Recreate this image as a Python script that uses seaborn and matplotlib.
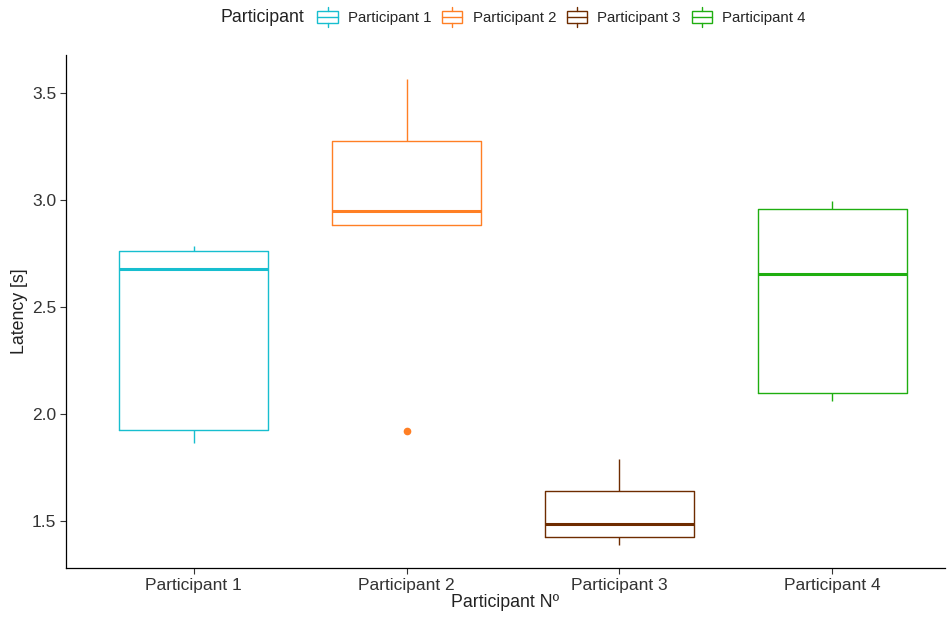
import numpy as np
import pandas as pd
import matplotlib
matplotlib.use("Agg")
import matplotlib.pyplot as plt
import seaborn as sns
from matplotlib.legend_handler import HandlerBase
from matplotlib.patches import Rectangle
from matplotlib.lines import Line2D

# latency per participant (5 trials each)
participants = ["Participant 1", "Participant 2", "Participant 3", "Participant 4"]
p1 = [1.864, 1.925, 2.677, 2.764, 2.785]
p2 = [1.921, 2.883, 2.950, 3.276, 3.565]
p3 = [1.388, 1.427, 1.486, 1.642, 1.790]
p4 = [2.062, 2.098, 2.656, 2.957, 2.995]
colors = ["#17BECF", "#FF7F24", "#6E2C00", "#1FAE10"]

df = pd.DataFrame({
    "participant": np.repeat(participants, 5),
    "latency": p1 + p2 + p3 + p4,
})
palette = dict(zip(participants, colors))

sns.set_style("white")
plt.rcParams["font.family"] = ["Liberation Sans", "DejaVu Sans"]

fig = plt.figure(figsize=(9.49, 6.21), dpi=100)
ax = fig.add_axes([0.0695, 0.0853, 0.9263, 0.8261])

sns.boxplot(data=df, x="participant", y="latency", hue="participant",
            palette=palette, fill=False, width=0.7, linewidth=1,
            showcaps=False, legend=False, whis=1.5,
            medianprops={"linewidth": 2.2},
            flierprops={"marker": "o", "markersize": 4.5}, ax=ax)

# filled outlier dots like ggplot
for ln in ax.lines:
    if ln.get_marker() == "o":
        ln.set_markerfacecolor(ln.get_markeredgecolor())

ax.set_xlim(-0.6, 3.53)
ax.set_ylim(1.28, 3.678)
ax.set_yticks([1.5, 2.0, 2.5, 3.0, 3.5])
ax.set_yticklabels(["1.5", "2.0", "2.5", "3.0", "3.5"])
ax.set_xlabel("Participant Nº", fontsize=12.8, color="#222222", labelpad=1)
ax.set_ylabel("Latency [s]", fontsize=12.8, color="#222222", labelpad=3)
ax.tick_params(axis="both", labelsize=12.5, labelcolor="#333333", color="#333333",
               length=4, width=0.8, direction="out", bottom=True, left=True, pad=3)
sns.despine(ax=ax)
for side in ["left", "bottom"]:
    ax.spines[side].set_color("black")
    ax.spines[side].set_linewidth(0.9)


class BoxHandler(HandlerBase):
    def create_artists(self, legend, orig_handle, xd, yd, width, height, fontsize, trans):
        c = orig_handle.get_color()
        w, h = width, height
        bw = w * 0.9
        x0 = (w - bw) / 2 - xd
        rect = Rectangle((x0, -yd + h * 0.05), bw, h * 0.9, fill=False,
                         edgecolor=c, linewidth=1, transform=trans)
        mid = Line2D([x0, x0 + bw], [-yd + h / 2] * 2, color=c, linewidth=1, transform=trans)
        top = Line2D([x0 + bw / 2] * 2, [-yd + h * 0.95, -yd + h * 1.25], color=c,
                     linewidth=1, transform=trans)
        bot = Line2D([x0 + bw / 2] * 2, [-yd + h * 0.05, -yd - h * 0.25], color=c,
                     linewidth=1, transform=trans)
        return [rect, mid, top, bot]


handles = [Line2D([], [], color=c) for c in colors]
fig.legend(handles, participants, loc="center", bbox_to_anchor=(0.591, 0.972), ncol=4,
           frameon=False, fontsize=10.8, handler_map={Line2D: BoxHandler()},
           handlelength=1.5, handleheight=1.0, handletextpad=0.6, columnspacing=0.65)
fig.text(0.232, 0.972, "Participant", fontsize=12.8, color="#222222", va="center", ha="left")

fig.savefig("out.png", dpi=100)
